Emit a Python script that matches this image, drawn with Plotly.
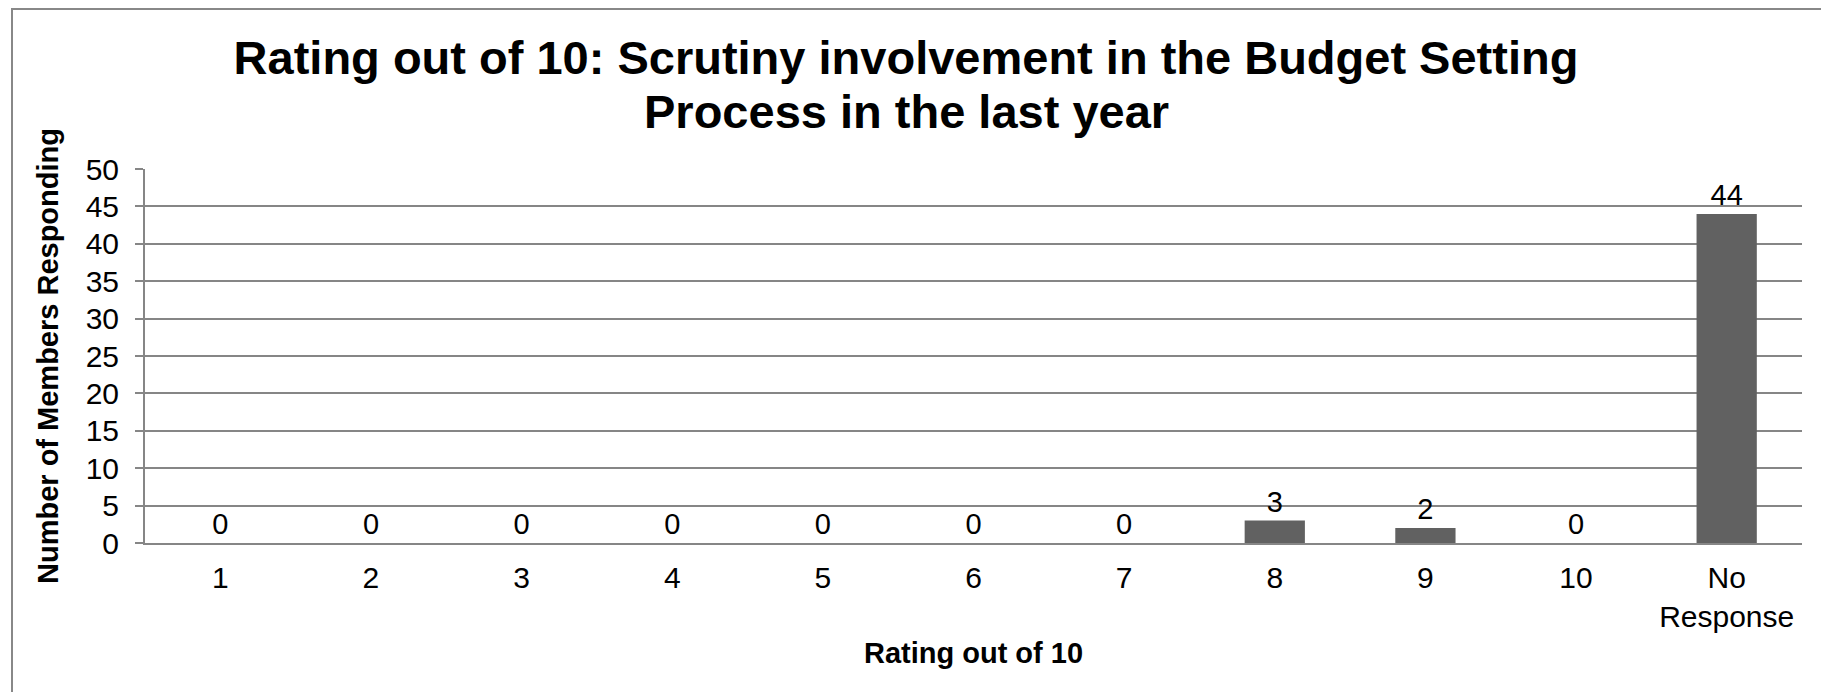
import plotly.graph_objects as go

categories = ["1", "2", "3", "4", "5", "6", "7", "8", "9", "10", "No<br>Response"]
values = [0, 0, 0, 0, 0, 0, 0, 3, 2, 0, 44]
y_ticks = [0, 5, 10, 15, 20, 25, 30, 35, 40, 45, 50]
title_lines = ["Rating out of 10: Scrutiny involvement in the Budget Setting",
               "Process in the last year"]

# page has an 8px body margin; figure coordinates = page coordinates - 8
W, H = 1813, 684
L, R, T, B = 137, 19, 161, 149
pw, ph = W - L - R, H - T - B
FONT = "Liberation Sans, Arial"

fig = go.Figure(go.Bar(
    x=categories, y=values,
    marker=dict(color="#616161", line=dict(width=0)),
    width=0.4,
    text=[str(v) for v in values],
    textposition="outside",
    textfont=dict(family=FONT, size=29, color="#000000"),
    cliponaxis=False,
))

bx0 = (4 - L) / pw
bx1 = (W + 20 - L) / pw
by0 = -(B + 20) / ph
by1 = 1 + (T - 1) / ph

fig.update_layout(
    width=W, height=H,
    margin=dict(l=L, r=R, t=T, b=B, pad=0),
    paper_bgcolor="white", plot_bgcolor="white",
    font=dict(family=FONT, color="#000000"),
    title=dict(
        text="<b>" + title_lines[0] + "</b>",
        x=898 / W, xanchor="center",
        y=1 - 50 / H, yanchor="middle",
        font=dict(size=47, family=FONT, color="#000000"),
    ),
    annotations=[dict(
        text="<b>" + title_lines[1] + "</b>",
        xref="paper", yref="paper",
        x=(898 - L) / pw, y=1 + (T - 103) / ph,
        xanchor="center", yanchor="middle", showarrow=False,
        font=dict(size=47, family=FONT, color="#000000"),
    )],
    showlegend=False,
    bargap=0.6,
    shapes=[dict(
        type="path", xref="paper", yref="paper",
        path=f"M {bx0},{by0} L {bx0},{by1} L {bx1},{by1}",
        line=dict(color="#888888", width=2), layer="below",
    )],
)

fig.update_xaxes(
    type="category",
    showline=True, linecolor="#868686", linewidth=2,
    showgrid=False, ticks="",
    tickfont=dict(size=30, color="#000000"),
    ticklabelstandoff=7,
    title=dict(text="<b>Rating out of 10</b>", font=dict(size=29, color="#000000"), standoff=11),
)

fig.update_yaxes(
    range=[0, 50], tickvals=y_ticks,
    showline=True, linecolor="#868686", linewidth=2,
    showgrid=True, gridcolor="#868686", gridwidth=2,
    ticks="outside", ticklen=8, tickcolor="#868686", tickwidth=2,
    tickfont=dict(size=30, color="#000000"),
    ticklabelstandoff=10,
    zeroline=False,
    title=dict(text="<b>Number of Members Responding</b>", font=dict(size=29, color="#000000"), standoff=18),
)

fig.write_html("out.html")
